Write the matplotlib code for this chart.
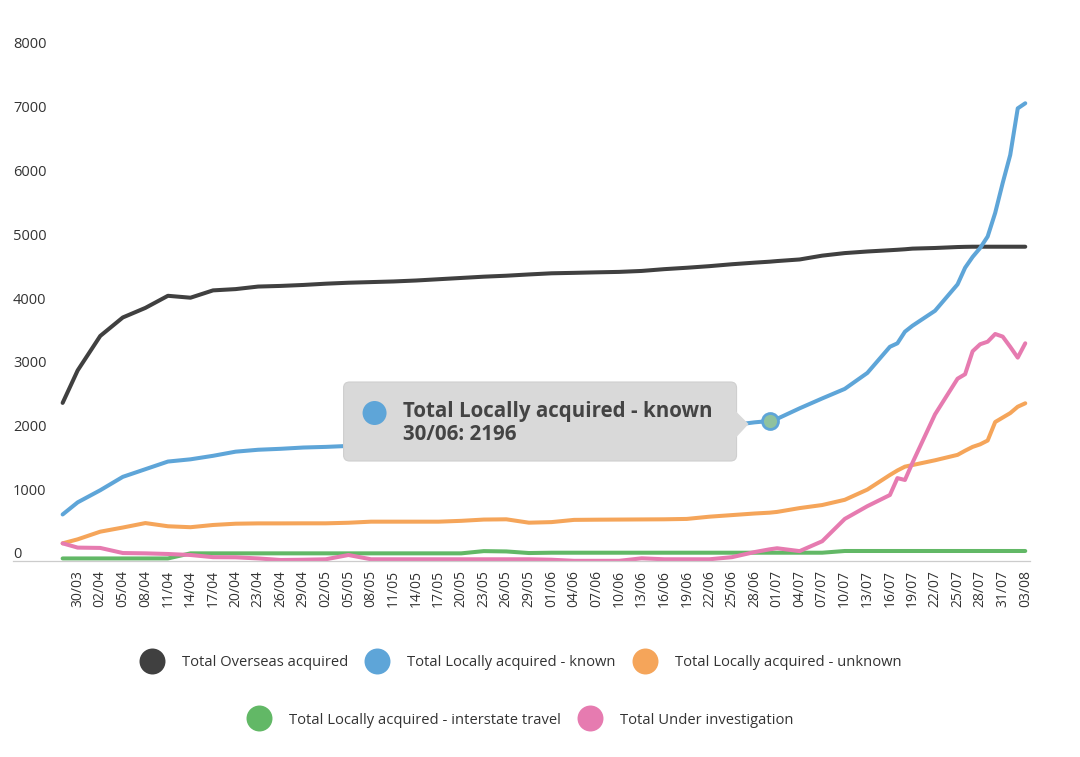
import matplotlib.pyplot as plt
import matplotlib.dates as mdates
from matplotlib.patches import FancyBboxPatch, Polygon, Circle
from matplotlib.transforms import IdentityTransform, ScaledTranslation
from matplotlib.lines import Line2D
import pandas as pd

plt.rcParams['font.family'] = ['Open Sans', 'DejaVu Sans']

# ---- données ----
dates = ['28/03', '30/03', '02/04', '05/04', '08/04', '11/04', '14/04', '17/04',
         '20/04', '23/04', '26/04', '29/04', '02/05', '05/05', '08/05', '11/05',
         '14/05', '17/05', '20/05', '23/05', '26/05', '29/05', '01/06', '04/06',
         '07/06', '10/06', '13/06', '16/06', '19/06', '22/06', '25/06', '28/06',
         '30/06', '01/07', '04/07', '07/07', '10/07', '13/07', '16/07', '17/07',
         '18/07', '19/07', '22/07', '25/07', '26/07', '27/07', '28/07', '29/07',
         '30/07', '31/07', '01/08', '02/08', '03/08']

overseas = [2480, 2990, 3530, 3820, 3970, 4160, 4130, 4245, 4265, 4305, 4315, 4330,
            4350, 4365, 4375, 4385, 4400, 4420, 4440, 4460, 4475, 4495, 4513, 4520,
            4528, 4535, 4550, 4578, 4600, 4625, 4655, 4680, 4695, 4705, 4730, 4790,
            4830, 4855, 4875, 4882, 4890, 4900, 4910, 4925, 4928, 4930, 4930, 4930,
            4930, 4930, 4930, 4930, 4930]

local_known = [730, 920, 1110, 1320, 1440, 1560, 1595, 1650, 1715, 1745, 1760, 1780,
               1790, 1805, 1820, 1835, 1850, 1870, 1890, 1910, 1930, 1950, 1970, 1990,
               2010, 2030, 2045, 2060, 2080, 2100, 2130, 2175, 2196, 2230, 2395, 2550,
               2700, 2950, 3360, 3415, 3597, 3690, 3925, 4340, 4600, 4770, 4910, 5090,
               5460, 5930, 6369, 7100, 7180]

local_unknown = [277, 340, 460, 525, 595, 545, 530, 565, 585, 590, 590, 591,
                 591, 600, 617, 617, 617, 617, 630, 650, 654, 601, 610, 645,
                 648, 650, 652, 654, 660, 695, 720, 745, 758, 770, 830, 878,
                 960, 1120, 1349, 1420, 1480, 1505, 1580, 1665, 1730, 1790, 1830, 1890,
                 2180, 2250, 2320, 2420, 2474]

interstate = [40, 40, 40, 40, 40, 40, 120, 120, 120, 120, 120, 120,
              120, 120, 120, 120, 120, 120, 120, 155, 150, 125, 130, 130,
              130, 130, 130, 130, 130, 130, 130, 130, 130, 130, 130, 130,
              157, 157, 157, 157, 157, 157, 157, 157, 157, 157, 157, 157,
              157, 157, 157, 157, 157]

under_invest = [277, 210, 205, 125, 120, 110, 94, 60, 58, 40, 16, 20,
                27, 94, 27, 27, 27, 27, 27, 27, 27, 27, 20, 3,
                3, 3, 42, 27, 27, 27, 60, 140, 183, 200, 155, 310,
                660, 860, 1035, 1300, 1271, 1540, 2300, 2860, 2930, 3290, 3400, 3440,
                3561, 3520, 3360, 3190, 3415]

series_names = ['Total Overseas acquired', 'Total Locally acquired - known',
                'Total Locally acquired - unknown',
                'Total Locally acquired - interstate travel', 'Total Under investigation']
series_values = [overseas, local_known, local_unknown, interstate, under_invest]
couleurs = ['#404040', '#5ea5d8', '#f5a55a', '#62b866', '#e67bb0']

hover_idx = dates.index('30/06')

x = pd.to_datetime([d + '/2020' for d in dates], format='%d/%m/%Y')

# ---- figure ----
W, H = 1080, 757
fig = plt.figure(figsize=(W / 100, H / 100), dpi=100)
ax = fig.add_axes([13 / W, (H - 561) / H, 1017 / W, 510 / H])

for nom, vals, c in zip(series_names, series_values, couleurs):
    ax.plot(x, vals, color=c, lw=2.9, solid_capstyle='round',
            solid_joinstyle='round', label=nom)

ax.set_xlim(x[0] - pd.Timedelta(days=6.6), x[-1] + pd.Timedelta(days=0.63))
ax.set_ylim(0, 8000)

for s in ['top', 'right', 'left']:
    ax.spines[s].set_visible(False)
ax.spines['bottom'].set_color('#cccccc')
ax.spines['bottom'].set_linewidth(0.9)

ticks = pd.date_range('2020-03-30', '2020-08-03', freq='3D')
ax.set_xticks(ticks)
ax.set_xticklabels([t.strftime('%d/%m') for t in ticks])
ax.tick_params(axis='x', length=0, pad=6.5, labelsize=10, labelrotation=90,
               labelcolor='#333333')

ax.set_yticks(range(0, 8001, 1000))
ax.tick_params(axis='y', length=0, pad=0, labelsize=10.5, labelcolor='#333333')
for lbl in ax.get_yticklabels():
    lbl.set_horizontalalignment('left')
    lbl.set_transform(lbl.get_transform() + ScaledTranslation(0, 8 / 100, fig.dpi_scale_trans))

# point survolé
ax.plot(x[hover_idx], local_known[hover_idx], 'o', ms=11.5, mfc='#8fc29f',
        mec=couleurs[1], mew=2, zorder=6)

# ---- infobulle ----
px, py = ax.transData.transform((mdates.date2num(x[hover_idx]), local_known[hover_idx]))
ident = IdentityTransform()
left, right = px - 426, px - 33
bottom, top = py - 40, py + 39
box = FancyBboxPatch((left, bottom), right - left, top - bottom,
                     boxstyle='round,pad=0,rounding_size=6', transform=ident,
                     fc='#d9d9d9', ec='#cfcfcf', lw=0.8, zorder=10)
fig.add_artist(box)
pointe = Polygon([(right - 1, py + 10), (right + 12, py - 3), (right - 1, py - 17)],
                 closed=True, transform=ident, fc='#d9d9d9', ec='none', zorder=11)
fig.add_artist(pointe)
fig.add_artist(Circle((px - 395, py + 8), 12, transform=ident, fc=couleurs[1],
                      ec='none', zorder=12))
fig.text(px - 367, py + 10, series_names[1], transform=ident, fontsize=14.8,
         fontweight='bold', color='#444444', va='center', ha='left', zorder=12)
fig.text(px - 367, py - 13, f'{dates[hover_idx]}: {local_known[hover_idx]}',
         transform=ident, fontsize=14.8, fontweight='bold', color='#444444',
         va='center', ha='left', zorder=12)

# ---- légende ----
handles = [Line2D([], [], ls='none', marker='o', ms=18.7, mfc=c, mec='none')
           for c in couleurs]
fs = 10.6
kw = dict(frameon=False, loc='center', fontsize=fs, handlelength=1.78,
          handletextpad=1.15, columnspacing=1.1, borderpad=0, borderaxespad=0,
          labelcolor='#333333')
fig.legend(handles[:3], series_names[:3], ncol=3,
           bbox_to_anchor=(520 / W, (H - 663) / H), **kw)
fig.legend(handles[3:], series_names[3:], ncol=2,
           bbox_to_anchor=(520 / W, (H - 720) / H), **kw)

fig.savefig('out.png', dpi=100)
